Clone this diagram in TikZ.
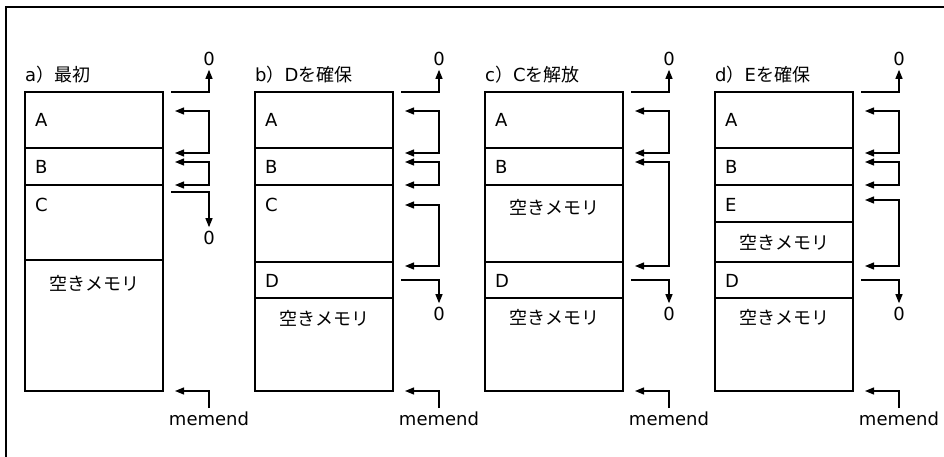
\documentclass[tikz,border=0pt]{standalone}
\usepackage{fontspec}
\setmainfont{DejaVu Sans}
\newfontfamily\jp{Noto Sans CJK JP}
\usetikzlibrary{arrows.meta}

\tikzset{
  blk/.style={line width=1.6pt},
  ptr/.style={line width=1.2pt,-{Triangle[length=9pt,width=7pt]}},
  bptr/.style={line width=1.2pt,{Triangle[length=9pt,width=7pt]}-{Triangle[length=9pt,width=7pt]}},
  cell/.style={anchor=west,inner sep=0pt},
  free/.style={inner sep=0pt,font=\fontsize{18}{20}\selectfont\jp},
  zero/.style={inner sep=0pt,outer sep=4pt}
}

\begin{document}
\begin{tikzpicture}[x=1pt,y=-1pt,font=\fontsize{18}{20}\selectfont]
\useasboundingbox (0,0) rectangle (944,457);
\draw[line width=1.2pt] (944,7) -- (6,7) -- (6,457);

% box, title, pointer to 0 and memend of each panel
\foreach \x/\n/\t in {25/a/{a{\jp）最初}},255/b/{b{\jp）}D{\jp を確保}},485/c/{c{\jp）}C{\jp を解放}},715/d/{d{\jp）}E{\jp を確保}}}{
\node[cell] (t\n) at (\x,75) {\t};
\draw[blk] (\x,92) rectangle ({\x+138},391);
\coordinate (s\n) at ({\x+146},92);
\node[zero] (z\n) at ({\x+184},59) {0};
\draw[ptr] (s\n) -| (z\n);
\coordinate (e\n) at ({\x+150},391);
\node[zero] (m\n) at ({\x+184},419) {memend};
\draw[ptr] (m\n) |- (e\n);
}

% a) 最初
\foreach \y in {148,185,260} \draw[blk] (25,\y) -- (163,\y);
\node[cell] (aA) at (35,120) {A};
\node[cell] (aB) at (35,167) {B};
\node[cell] (aC) at (35,205) {C};
\node[free] (aF) at (94,283) {空きメモリ};
\coordinate (a1) at (175,111); \coordinate (a2) at (175,153);
\draw[bptr] (a1) -- ++(34,0) |- (a2);
\coordinate (a3) at (175,162); \coordinate (a4) at (175,185);
\draw[bptr] (a3) -- ++(34,0) |- (a4);
\coordinate (ao) at (171,192);
\node[zero] (az) at (209,238) {0};
\draw[ptr] (ao) -| (az);

% b) Dを確保
\foreach \y in {148,185,262,298} \draw[blk] (255,\y) -- (393,\y);
\node[cell] (bA) at (265,120) {A};
\node[cell] (bB) at (265,167) {B};
\node[cell] (bC) at (265,205) {C};
\node[cell] (bD) at (265,281) {D};
\node[free] (bF) at (324,318) {空きメモリ};
\coordinate (b1) at (405,111); \coordinate (b2) at (405,153);
\draw[bptr] (b1) -- ++(34,0) |- (b2);
\coordinate (b3) at (405,162); \coordinate (b4) at (405,185);
\draw[bptr] (b3) -- ++(34,0) |- (b4);
\coordinate (b5) at (405,205); \coordinate (b6) at (405,266);
\draw[bptr] (b5) -- ++(34,0) |- (b6);
\coordinate (bo) at (401,280);
\node[zero] (bz) at (439,314) {0};
\draw[ptr] (bo) -| (bz);

% c) Cを解放
\foreach \y in {148,185,262,298} \draw[blk] (485,\y) -- (623,\y);
\node[cell] (cA) at (495,120) {A};
\node[cell] (cB) at (495,167) {B};
\node[free] (cF) at (554,207) {空きメモリ};
\node[cell] (cD) at (495,281) {D};
\node[free] (cG) at (554,317) {空きメモリ};
\coordinate (c1) at (635,111); \coordinate (c2) at (635,153);
\draw[bptr] (c1) -- ++(34,0) |- (c2);
\coordinate (c3) at (635,162); \coordinate (c4) at (635,266);
\draw[bptr] (c3) -- ++(34,0) |- (c4);
\coordinate (co) at (631,280);
\node[zero] (cz) at (669,314) {0};
\draw[ptr] (co) -| (cz);

% d) Eを確保
\foreach \y in {148,185,222,262,298} \draw[blk] (715,\y) -- (853,\y);
\node[cell] (dA) at (725,120) {A};
\node[cell] (dB) at (725,167) {B};
\node[cell] (dE) at (725,205) {E};
\node[free] (dF) at (784,242) {空きメモリ};
\node[cell] (dD) at (725,281) {D};
\node[free] (dG) at (784,317) {空きメモリ};
\coordinate (d1) at (865,111); \coordinate (d2) at (865,153);
\draw[bptr] (d1) -- ++(34,0) |- (d2);
\coordinate (d3) at (865,162); \coordinate (d4) at (865,185);
\draw[bptr] (d3) -- ++(34,0) |- (d4);
\coordinate (d5) at (865,200); \coordinate (d6) at (865,266);
\draw[bptr] (d5) -- ++(34,0) |- (d6);
\coordinate (do) at (861,280);
\node[zero] (dz) at (899,314) {0};
\draw[ptr] (do) -| (dz);

\end{tikzpicture}
\end{document}
